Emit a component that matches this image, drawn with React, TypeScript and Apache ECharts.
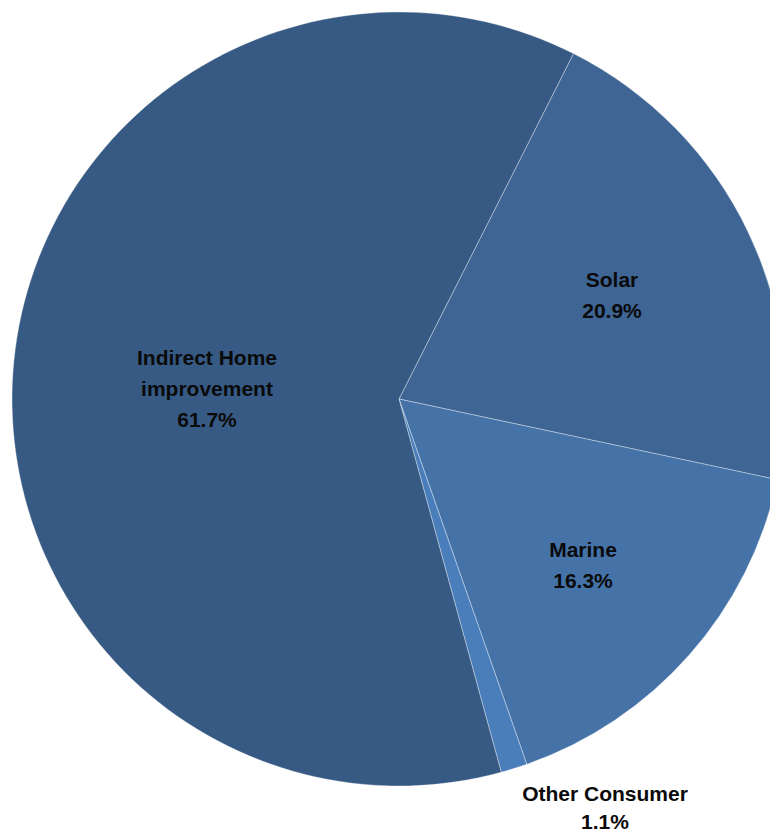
import React, { useEffect, useRef } from "react";
import * as echarts from "echarts";

const categories = ["Solar", "Marine", "Other Consumer", "Indirect Home\nimprovement"];
const shares = [20.9, 16.3, 1.1, 61.7];
const colors = ["#3E6594", "#4573A8", "#4A7EBB", "#375A84"];
const labelPositions: [number, number][] = [
  [612, 295],
  [583, 565],
  [605, 807],
  [207, 388],
];

export default function App() {
  const ref = useRef<HTMLDivElement>(null);
  useEffect(() => {
    if (!ref.current) return;
    const chart = echarts.init(ref.current, null, { renderer: "svg" });
    chart.setOption({
      animation: false,
      backgroundColor: "#ffffff",
      series: [
        {
          type: "pie",
          center: [399, 399],
          radius: [0, 387],
          startAngle: 63.2,
          clockwise: true,
          avoidLabelOverlap: false,
          data: categories.map((c, i) => ({
            name: c,
            value: shares[i],
            itemStyle: { color: colors[i] },
            label: i === 2 ? { lineHeight: 28 } : undefined,
          })),
          itemStyle: { borderColor: "rgba(255,255,255,0.35)", borderWidth: 1 },
          label: {
            show: true,
            position: "inside",
            formatter: (p: any) => `${p.name}\n${shares[p.dataIndex].toFixed(1)}%`,
            color: "#0a0a0a",
            fontFamily: "Liberation Sans",
            fontWeight: "bold",
            fontSize: 21,
            lineHeight: 31,
            align: "center",
          },
          labelLine: { show: false },
          labelLayout: (p: any) => ({
            x: labelPositions[p.dataIndex][0],
            y: labelPositions[p.dataIndex][1],
            align: "center",
            verticalAlign: "middle",
          }),
          emphasis: { disabled: true },
        },
      ],
    });
    return () => chart.dispose();
  }, []);
  return (
    <div
      ref={ref}
      style={{ position: "fixed", left: 0, top: 0, width: 770, height: 833 }}
    />
  );
}
